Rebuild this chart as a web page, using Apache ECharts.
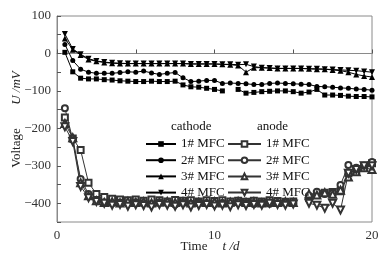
<!DOCTYPE html>
<html>
<head>
<meta charset="utf-8">
<script src="https://cdn.jsdelivr.net/npm/echarts@6/dist/echarts.min.js"></script>
<style>html,body{margin:0;padding:0;background:#fff}#c{width:390px;height:259px}</style>
</head>
<body>
<div id="c"></div>
<script>
var days = [0.5,1,1.5,2,2.5,3,3.5,4,4.5,5,5.5,6,6.5,7,7.5,8,8.5,9,9.5,10,10.5,11,11.5,12,12.5,13,13.5,14,14.5,15,15.5,16,16.5,17,17.5,18,18.5,19,19.5,20]

// cathode, mV
var cat1 = [3,-49,-66,-68,-68,-70,-71,-73,-74,-75,-75,-74,-75,-75,-74,-84,-89,-90,-93,-96,-100,null,-96,-106,-104,-102,-101,-100,-100,-102,-106,-103,-96,-111,-111,-112,-114,-115,-115,-116]
var cat2 = [24,-19,-42,-50,-53,-53,-53,-51,-49,-50,-47,-52,-56,-53,-51,-65,-75,-74,-72,-72,-80,-79,-80,-81,-83,-83,-80,-79,-80,-81,-82,-83,-88,-89,-90,-92,-93,-95,-96,-98]
var cat3 = [40,10,-4,-16,-21,-24,-26,-27,-27,-27,-27,-27,-27,-27,-27,-27,-28,-28,-28,-28,-29,-30,-32,-50,-38,-38,-39,-40,-40,-40,-40,-41,-42,-42,-44,-46,-50,-56,-60,-63]
var cat4 = [52,12,-2,-14,-20,-23,-25,-26,-27,-27,-27,-27,-27,-27,-27,-27,-28,-28,-28,-28,-29,-29,-30,-29,-35,-38,-39,-40,-40,-40,-40,-41,-41,-42,-43,-44,-45,-46,-48,-50]

// anode, mV
var an1 = [-171,-227,-258,-345,-375,-383,-388,-390,-392,-390,-393,-390,-392,-395,-391,-393,-392,-395,-392,-394,-392,-395,-393,-396,-393,-395,-392,-394,-396,-395,null,-385,-375,-372,-370,-368,-320,-311,-300,-293]
var an2 = [-146,-230,-335,-375,-392,-398,-400,-398,-401,-397,-400,-402,-398,-400,-403,-399,-401,-397,-400,-402,-399,-401,-398,-400,-402,-399,-401,-400,-398,-400,null,-380,-369,-375,-372,-351,-298,-305,-300,-290]
var an3 = [-187,-225,-345,-380,-393,-398,-396,-399,-395,-398,-396,-399,-397,-395,-398,-396,-399,-397,-398,-396,-399,-397,-395,-398,-396,-399,-397,-398,-396,-398,null,-375,-378,-372,-376,-365,-330,-316,-305,-310]
var an4 = [-196,-235,-355,-385,-395,-400,-405,-403,-408,-404,-406,-410,-403,-405,-408,-404,-410,-406,-403,-407,-405,-409,-404,-406,-403,-405,-400,-403,-405,-402,null,-400,-405,-413,-400,-418,-320,-310,-300,-300]

var xTicks = [0, 10, 20]
var yTicks = [100, 0, -100, -200, -300, -400]

var font = "Liberation Serif"
var chart = echarts.init(document.getElementById("c"), null, {renderer: "canvas"})

function pts(v) { return days.map(function(d, i) { return [d, v[i]] }) }
function ser(name, v, sym, size, rot, lc) {
    return {name: name, type: "line", data: pts(v), symbol: sym, symbolSize: size, symbolRotate: rot || 0,
        lineStyle: {color: lc, width: 1}, itemStyle: {color: lc, borderWidth: 1}, connectNulls: false, animation: false}
}
function lbl(n) { return n.slice(1) + "# MFC" }
function leg(left, w, names) {
    return {orient: "vertical", left: left, top: 137, padding: 0, itemWidth: w, itemHeight: 7, itemGap: 2.2,
        textStyle: {fontFamily: font, fontSize: 13, color: "#111", lineHeight: 14}, data: names, formatter: lbl}
}

chart.setOption({
    animation: false,
    grid: {left: 57, right: 18, top: 16, bottom: 37, show: true, borderColor: "#8a8a8a", borderWidth: 1},
    xAxis: {type: "value", min: 0, max: 20, interval: 5,
        axisLine: {lineStyle: {color: "#8a8a8a"}}, axisTick: {inside: true, length: 4, lineStyle: {color: "#555"}},
        splitLine: {show: false},
        axisLabel: {fontFamily: font, fontSize: 13, color: "#333", margin: 7,
            formatter: function(v) { return xTicks.indexOf(v) >= 0 ? String(v) : "" }}},
    yAxis: {type: "value", min: -450, max: 100, interval: 50,
        axisLine: {show: true, lineStyle: {color: "#8a8a8a"}}, axisTick: {show: true, inside: true, length: 4, lineStyle: {color: "#555"}},
        splitLine: {show: false},
        axisLabel: {fontFamily: font, fontSize: 13, color: "#333", margin: 6,
            formatter: function(v) { return yTicks.indexOf(v) >= 0 ? String(v).replace("-", "\u2212") : "" }}},
    legend: [leg(145, 30, ["c1", "c2", "c3", "c4"]), leg(227, 33, ["a1", "a2", "a3", "a4"])],
    graphic: [
        {type: "text", left: 171, top: 120, style: {text: "cathode", font: "13px " + font, fill: "#111"}},
        {type: "text", left: 257, top: 120, style: {text: "anode", font: "13px " + font, fill: "#111"}},
        {type: "text", x: 17, y: 148, rotation: Math.PI / 2, style: {text: "Voltage", font: "13px " + font, fill: "#222", align: "center", verticalAlign: "middle"}},
        {type: "text", x: 17, y: 88, rotation: Math.PI / 2, style: {text: "U /mV", font: "italic 13px " + font, fill: "#222", align: "center", verticalAlign: "middle"}},
        {type: "text", x: 194, y: 247, style: {text: "Time", font: "13px " + font, fill: "#222", align: "center", verticalAlign: "middle"}},
        {type: "text", x: 231, y: 247, style: {text: "t /d", font: "italic 13px " + font, fill: "#222", align: "center", verticalAlign: "middle"}}
    ],
    series: [
        ser("a1", an1, "emptyRect", 6, 0, "#333"),
        ser("a2", an2, "emptyCircle", 6, 0, "#333"),
        ser("a3", an3, "emptyTriangle", 7, 0, "#333"),
        ser("a4", an4, "emptyTriangle", 7, 180, "#333"),
        ser("c1", cat1, "rect", 5, 0, "#000"),
        ser("c2", cat2, "circle", 5, 0, "#000"),
        ser("c3", cat3, "triangle", 6, 0, "#000"),
        ser("c4", cat4, "triangle", 6, 180, "#000")
    ]
})
</script>
</body>
</html>
